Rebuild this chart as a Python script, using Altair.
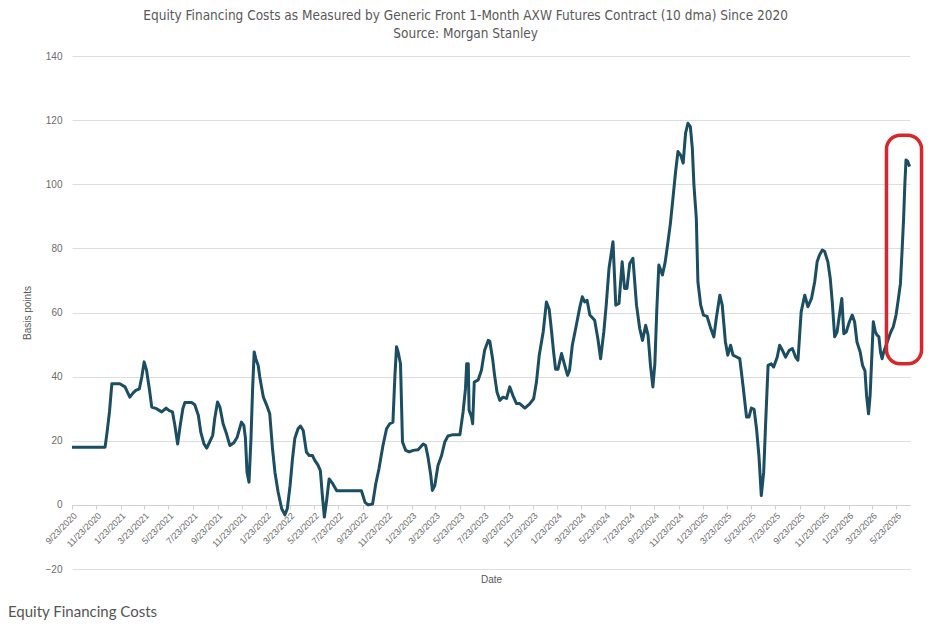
import altair as alt
import pandas as pd

# Days since 2020-09-23 and the 10-day moving average of the AXW futures financing cost (bp)
day_offsets = [
    0, 83, 88, 94, 100, 120, 133, 145, 154, 160, 169, 175, 181, 187, 194, 200, 212, 225, 236, 244,
    252, 258, 265, 271, 278, 283, 300, 308, 317, 323, 331, 338, 344, 353, 358, 365, 371, 379, 388, 396,
    406, 414, 425, 431, 435, 439, 444, 449, 453, 457, 461, 467, 471, 480, 488, 496, 503, 509, 517, 526,
    534, 540, 547, 553, 559, 567, 573, 580, 588, 595, 603, 609, 617, 623, 628, 633, 639, 645, 654, 664,
    726, 735, 743, 754, 762, 770, 780, 789, 797, 805, 810, 814, 818, 824, 829, 837, 846, 856, 868, 881,
    887, 893, 900, 904, 910, 918, 927, 935, 943, 956, 973, 981, 987, 990, 994, 996, 1002, 1005, 1009, 1019,
    1027, 1035, 1044, 1048, 1055, 1060, 1066, 1073, 1081, 1090, 1098, 1106, 1115, 1123, 1136, 1148, 1158, 1165, 1172, 1182,
    1190, 1197, 1203, 1208, 1213, 1219, 1228, 1236, 1243, 1248, 1255, 1265, 1274, 1280, 1286, 1292, 1299, 1311, 1319, 1326,
    1334, 1340, 1347, 1357, 1364, 1372, 1380, 1386, 1392, 1399, 1407, 1416, 1424, 1431, 1439, 1445, 1451, 1457, 1462, 1467,
    1472, 1481, 1488, 1495, 1501, 1507, 1514, 1520, 1527, 1533, 1539, 1545, 1551, 1556, 1560, 1566, 1570, 1577, 1584, 1593,
    1601, 1610, 1616, 1625, 1631, 1639, 1645, 1652, 1658, 1666, 1675, 1683, 1692, 1698, 1704, 1711, 1717, 1723, 1729, 1735,
    1740, 1746, 1754, 1760, 1769, 1775, 1782, 1790, 1799, 1807, 1815, 1821, 1829, 1838, 1846, 1855, 1863, 1869, 1875, 1882,
    1888, 1896, 1902, 1907, 1913, 1919, 1925, 1931, 1936, 1942, 1950, 1957, 1963, 1969, 1977, 1983, 1989, 1993, 1998, 2002,
    2006, 2010, 2015, 2019, 2024, 2028, 2032, 2036, 2042, 2048, 2054, 2060, 2067, 2073, 2078, 2082, 2086, 2089, 2092, 2096,
    2101,
]
values = [
    18.0, 18.0, 22.7, 29.0, 37.8, 37.8, 36.8, 33.6, 35.0, 35.7, 36.2, 39.9, 44.6, 42.0, 36.2, 30.5, 30.0, 29.0, 30.2, 29.4,
    29.0, 24.8, 19.0, 24.4, 30.0, 31.9, 31.9, 31.2, 27.9, 22.7, 19.0, 17.7, 19.3, 21.7, 26.9, 32.1, 30.5, 25.3, 22.0, 18.5,
    19.4, 21.0, 25.8, 24.8, 20.8, 10.2, 7.1, 20.8, 36.2, 47.7, 45.6, 43.5, 39.9, 33.6, 31.2, 28.4, 17.5, 10.2, 4.0, -1.2,
    -3.1, -1.2, 6.0, 14.3, 20.8, 23.75, 24.6, 23.2, 16.5, 15.4, 15.4, 13.9, 12.4, 10.7, 2.9, -3.8, 1.7, 8.1, 6.6, 4.4,
    4.4, 0.8, 0.0, 0.3, 6.6, 11.25, 18.5, 23.75, 25.3, 25.8, 40.4, 49.3, 47.7, 44.0, 19.6, 17.0, 16.5, 17.0, 17.2, 19.0,
    18.5, 14.9, 9.2, 4.5, 6.0, 12.3, 15.4, 19.6, 21.5, 21.9, 21.9, 29.0, 36.25, 44.0, 44.0, 29.5, 27.5, 25.3, 38.3, 39.0,
    42.0, 48.2, 51.3, 51.0, 45.6, 40.4, 35.2, 32.6, 33.6, 33.2, 36.8, 34.1, 31.6, 31.6, 30.2, 31.5, 33.1, 38.3, 46.7, 54.0,
    63.3, 61.0, 54.0, 47.7, 42.3, 42.3, 47.2, 43.5, 40.4, 42.0, 49.8, 56.0, 61.8, 64.9, 63.3, 63.8, 59.2, 57.6, 51.9, 45.6,
    54.0, 62.3, 73.75, 82.1, 62.3, 62.8, 75.8, 67.5, 67.5, 75.3, 76.9, 62.3, 55.0, 51.3, 56.0, 52.9, 43.5, 36.8, 44.0, 61.25,
    74.8, 71.7, 75.8, 82.1, 87.8, 95.1, 103.9, 110.2, 109.0, 106.6, 115.9, 119.0, 118.0, 111.25, 99.8, 89.4, 69.6, 62.3, 59.2, 58.8,
    55.5, 52.4, 58.1, 65.4, 62.3, 50.8, 46.7, 49.8, 46.7, 46.2, 45.6, 37.3, 27.4, 27.4, 30.2, 29.8, 23.75, 15.4, 2.9, 10.2,
    25.8, 43.5, 44.0, 43.0, 46.1, 49.8, 48.2, 46.1, 48.2, 48.75, 46.1, 45.1, 60.2, 65.4, 61.8, 64.4, 69.6, 75.8, 77.9, 79.5,
    79.0, 75.8, 70.6, 63.3, 52.4, 53.9, 59.2, 64.4, 53.4, 53.9, 57.1, 59.2, 57.1, 50.8, 47.7, 43.5, 41.8, 34.2, 28.4, 34.2,
    45.6, 57.1, 54.0, 53.0, 52.4, 47.7, 45.6, 47.7, 49.8, 51.9, 54.0, 55.5, 59.2, 64.4, 69.0, 79.0, 89.4, 99.8, 107.6, 107.2,
    105.5,
]

# Tick label dates (every two months, on the 23rd)
tick_months = [(2020, 9), (2020, 11)] + [(y, m) for y in range(2021, 2026) for m in (1, 3, 5, 7, 9, 11)] + [(2026, 1), (2026, 3), (2026, 5)]
y_ticks = [-20, 0, 20, 40, 60, 80, 100, 120, 140]

# Highlighted recent spike (red rounded box)
highlight_start = ["2026-04-28"]
highlight_end = ["2026-07-25"]
highlight_low = [44.0]
highlight_high = [115.3]

start = pd.Timestamp("2020-09-23")
df = pd.DataFrame({
    "date": [start + pd.Timedelta(days=d) for d in day_offsets],
    "value": values,
})
hl = pd.DataFrame({
    "x": pd.to_datetime(highlight_start),
    "x2": pd.to_datetime(highlight_end),
    "y": highlight_low,
    "y2": highlight_high,
})
caption = pd.DataFrame({"t": ["Equity Financing Costs"]})

GRAY = "#595959"
GRID = "#dedede"
AXFONT = "Liberation Sans"

x_scale = alt.Scale(domain=[alt.DateTime(year=2020, month=9, date=23),
                            alt.DateTime(year=2026, month=6, date=26)])
y_scale = alt.Scale(domain=[-20, 140], nice=False)

line = alt.Chart(df).mark_line(color="#1b4d63", strokeWidth=3, strokeJoin="round").encode(
    x=alt.X("date:T", scale=x_scale,
            axis=alt.Axis(values=[alt.DateTime(year=y, month=m, date=23) for y, m in tick_months],
                          tickCount=60,
                          format="%-m/%-d/%Y", labelAngle=-45, offset=-64, grid=False,
                          title="Date", titlePadding=26, titleFontSize=10, titleColor=GRAY,
                          titleFontWeight="normal", titleFont=AXFONT,
                          domainColor="#d0d0d0", tickColor="#d0d0d0", tickSize=4,
                          labelFontSize=9, labelColor="#6b6b6b", labelFont=AXFONT,
                          labelOverlap=False, labelFlush=False, labelPadding=2)),
    y=alt.Y("value:Q", scale=y_scale,
            axis=alt.Axis(values=y_ticks, title="Basis points", grid=True, gridColor=GRID,
                          domain=False, ticks=False, labelPadding=10, labelFontSize=10,
                          labelColor="#6b6b6b", labelFont=AXFONT, titleFontSize=10, titleColor=GRAY,
                          titleFontWeight="normal", titleFont=AXFONT, titlePadding=13)),
)

box = alt.Chart(hl).mark_rect(filled=False, stroke="#d8262a", strokeWidth=3.5, cornerRadius=14).encode(
    x=alt.X("x:T", scale=x_scale), x2="x2:T",
    y=alt.Y("y:Q", scale=y_scale), y2="y2:Q",
)

cap = alt.Chart(caption).mark_text(align="left", baseline="alphabetic", font="Lato",
                                   fontSize=15, color="#555555").encode(
    text="t:N", x=alt.value(-64), y=alt.value(561),
)

chart = alt.layer(line, box, cap).properties(
    width=838, height=513,
    padding={"left": 8, "top": 8, "right": 5, "bottom": 5},
    title=alt.TitleParams(
        text=["Equity Financing Costs as Measured by Generic Front 1-Month AXW Futures Contract (10 dma) Since 2020",
              "Source: Morgan Stanley"],
        font="Liberation Sans Narrow, Arial Narrow, DejaVu Sans Condensed, sans-serif",
        fontSize=13.5, fontWeight="normal", color=GRAY, anchor="middle", frame="bounds",
        lineHeight=18, offset=11,
    ),
).configure_view(stroke=None)

chart.save("out.html", embed_options={"renderer": "svg", "actions": False})
